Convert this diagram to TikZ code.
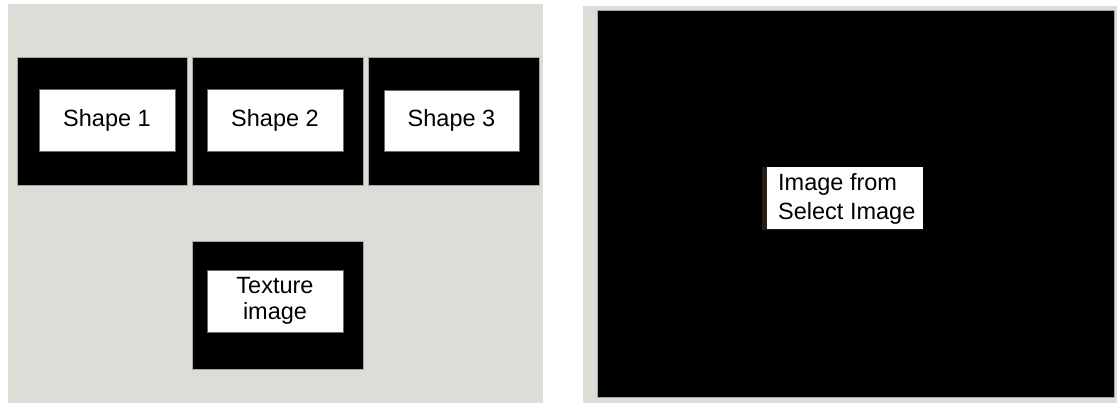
\documentclass[tikz,border=0pt]{standalone}
\usepackage{fontspec}
\setmainfont{Liberation Sans}
\definecolor{panelgray}{RGB}{221,220,215}
\definecolor{edgegray}{RGB}{110,105,100}
\definecolor{stripe}{RGB}{40,28,24}
\begin{document}
\begin{tikzpicture}[x=1pt,y=-1pt,
  panel/.style={fill=panelgray},
  frame/.style={fill=black,draw=gray!70,line width=0.6pt},
  label/.style={fill=white,draw=edgegray,line width=0.8pt,inner sep=0pt,
    minimum width=136pt,minimum height=62pt,align=center,
    font=\fontsize{23.5}{26.7}\selectfont}]
\useasboundingbox (0,0) rectangle (1117,403);
% left panel
\fill[panel] (8,4) rectangle (543,403);
\draw[frame] (17,57) rectangle (187,185);
\draw[frame] (192,57) rectangle (363,185);
\draw[frame] (368,57) rectangle (539,185);
\draw[frame] (192,241) rectangle (363,369);
\node[label] (s1) at (107,120) {Shape 1};
\node[label] (s2) at (275,120) {Shape 2};
\node[label,minimum width=135pt,minimum height=61pt] (s3) at (451.5,120.5) {Shape 3};
\node[label] (tex) at (275,301) {Texture\\image};
% right panel
\fill[panel] (583,6) rectangle (1117,403);
\draw[frame] (597,10) rectangle (1114,397.5);
\fill[stripe] (762,167) rectangle (923,230.5);
\node[fill=white,inner sep=0pt,minimum width=156pt,minimum height=62pt] (selbox) at (845,198.5) {};
\node[inner sep=0pt,align=left,anchor=west,font=\fontsize{23.5}{29.3}\selectfont] (seltext) at (778,199) {Image from\\Select Image};
\end{tikzpicture}
\end{document}
